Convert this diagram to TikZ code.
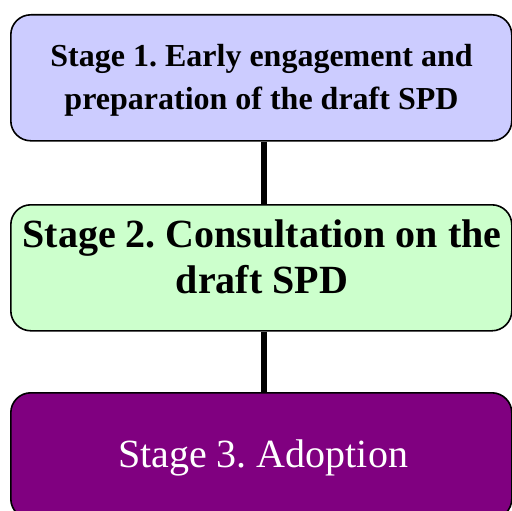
\documentclass[tikz,border=0pt]{standalone}
\usepackage{fontspec}
\setmainfont{Liberation Serif}
\definecolor{boxone}{HTML}{CCCCFF}
\definecolor{boxtwo}{HTML}{CCFFCC}
\definecolor{boxthree}{HTML}{800080}
\frenchspacing
\begin{document}
\begin{tikzpicture}[x=1pt,y=-1pt,
  stagebox/.style={draw=black, line width=1.6pt, rounded corners=20pt,
    minimum width=501pt, minimum height=126pt, anchor=north west, inner sep=0pt},
  link/.style={draw=black, line width=5.5pt},
  lbl/.style={align=center, inner sep=0pt}]
\useasboundingbox (0,0) rectangle (512,511);
\node[stagebox, fill=boxone] (s1) at (10,14) {};
\node[stagebox, fill=boxtwo] (s2) at (10,204) {};
\node[stagebox, fill=boxthree] (s3) at (10,392) {};
\node[lbl, font=\fontsize{32}{43}\selectfont\bfseries\frenchspacing] (t1) at (261.5,80)
  {Stage 1. Early engagement and\\preparation of the draft SPD};
\node[lbl, font=\fontsize{40}{46}\selectfont\bfseries\frenchspacing] (t2) at (262,256.5)
  {Stage 2. Consultation on the\\draft SPD};
\node[lbl, font=\fontsize{40}{46}\selectfont\frenchspacing, text=white, anchor=base] (t3) at (263,467)
  {Stage 3. Adoption};
\draw[link] ([xshift=2.5pt]s1.south) -- ([xshift=2.5pt]s2.north);
\draw[link] ([xshift=2.5pt]s2.south) -- ([xshift=2.5pt]s3.north);
\end{tikzpicture}
\end{document}
